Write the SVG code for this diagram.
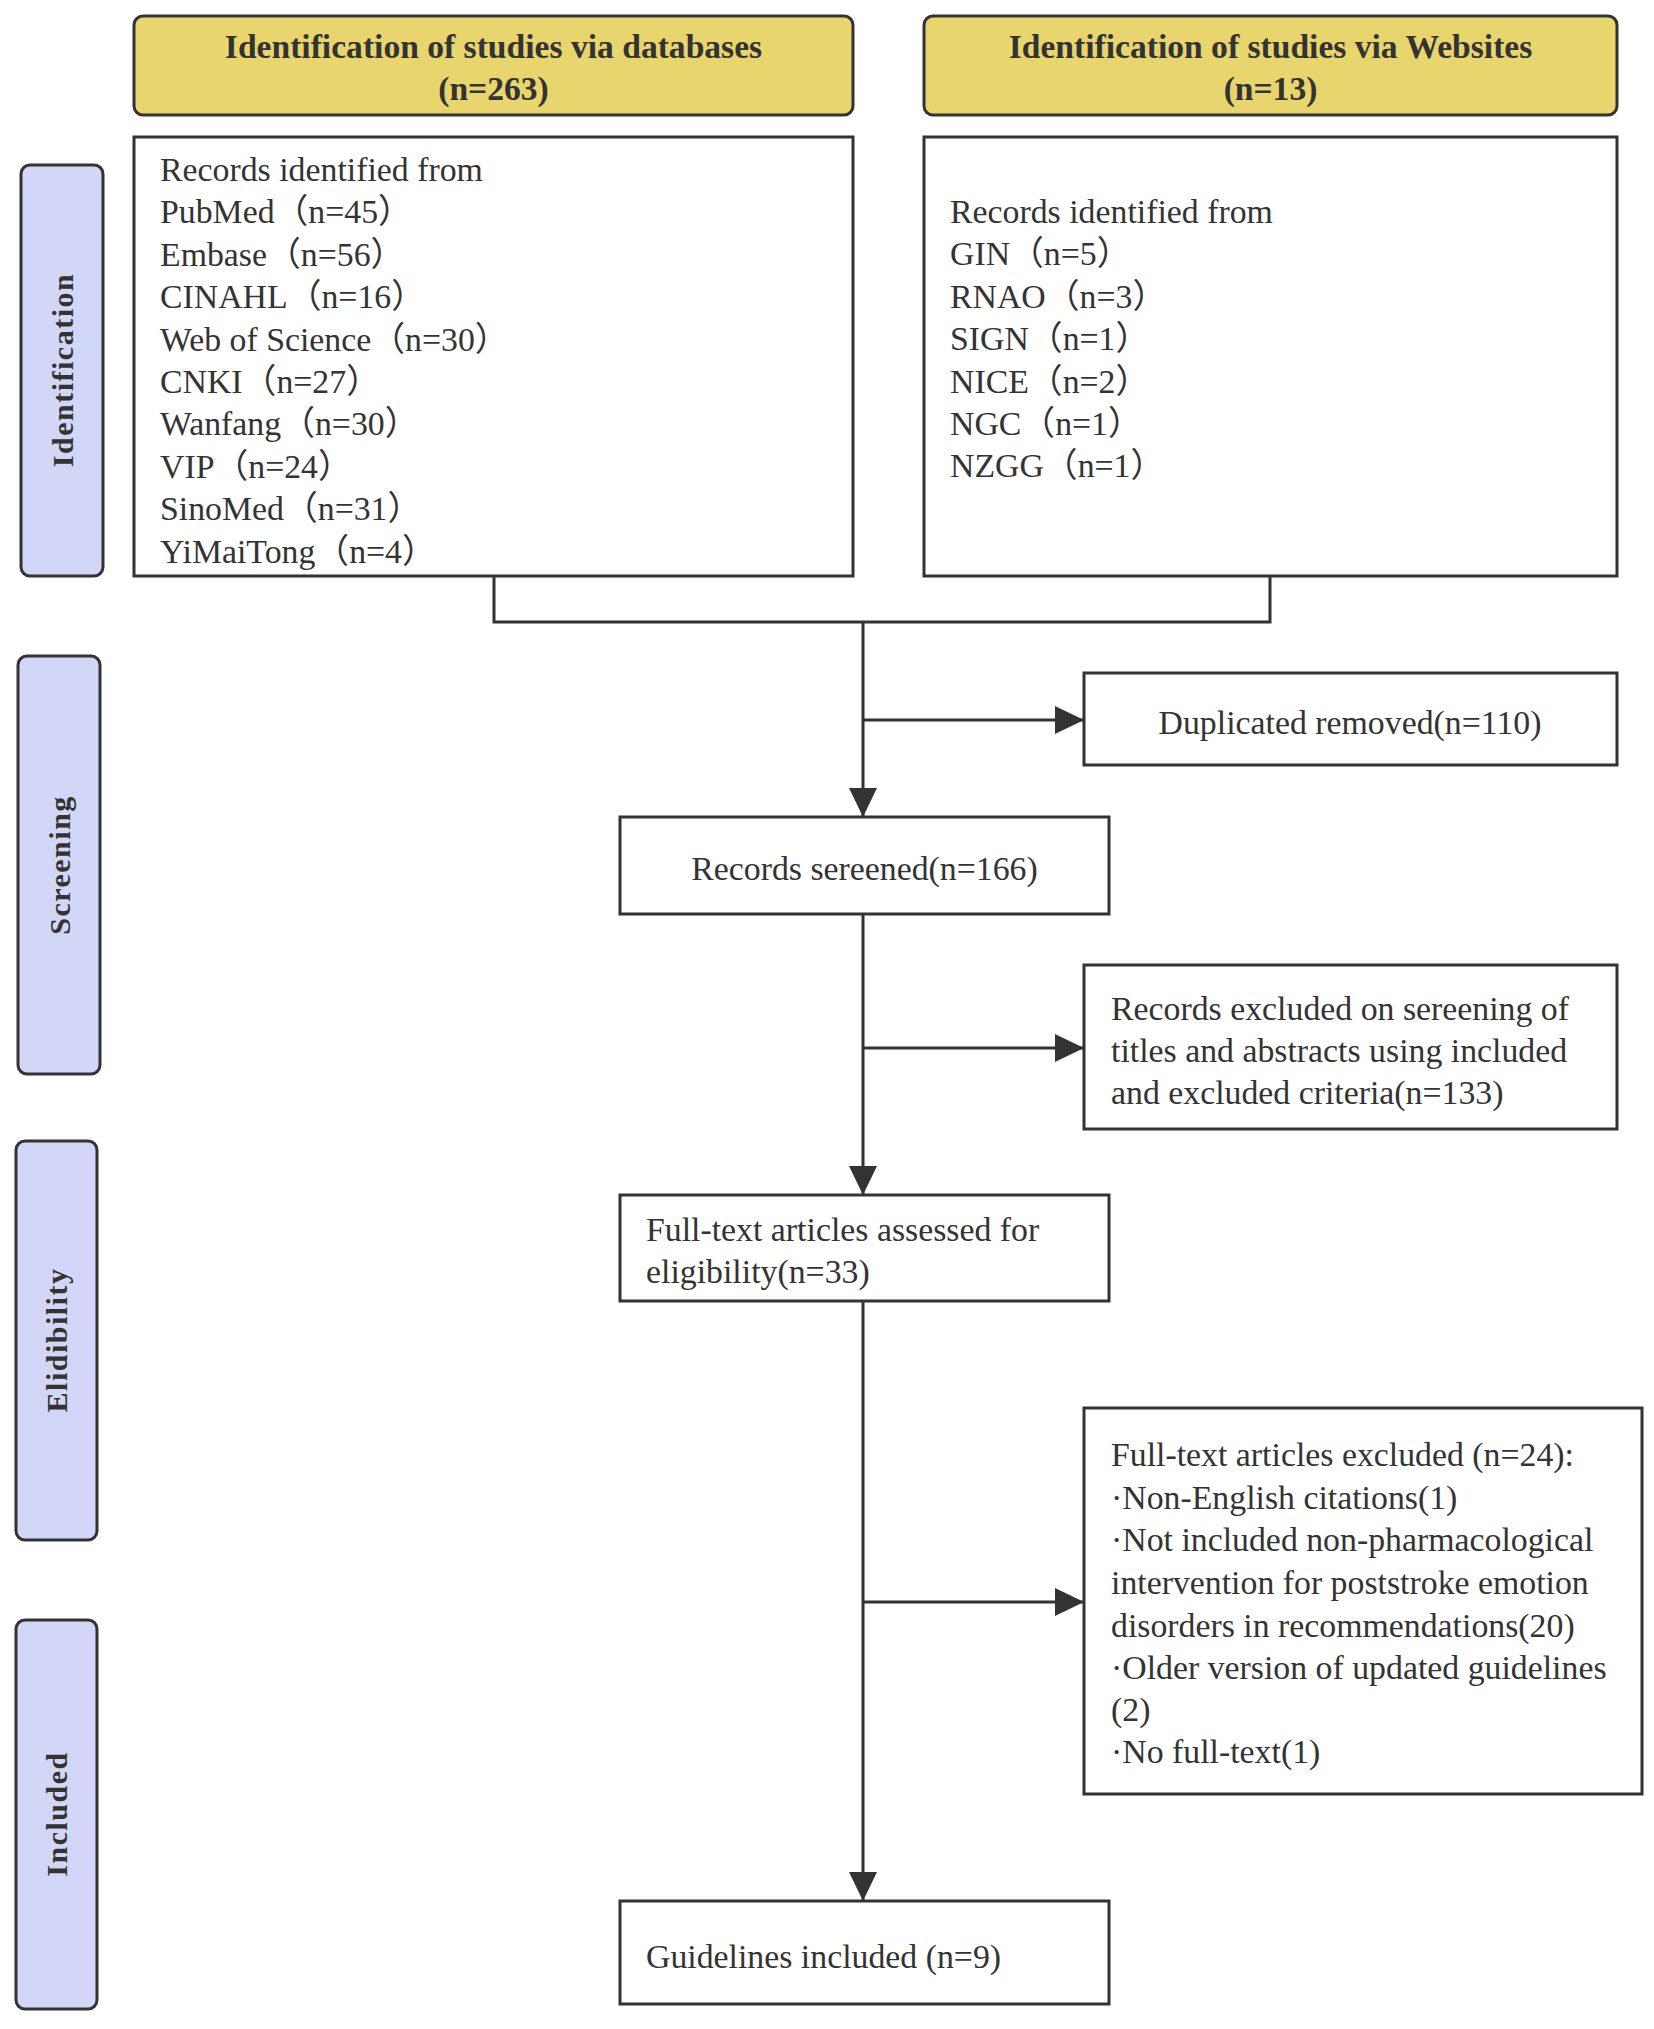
<svg xmlns="http://www.w3.org/2000/svg" width="1654" height="2029" viewBox="0 0 1654 2029">
<style>
.hdr{fill:#E8D56E;stroke:#333;stroke-width:3}
.side{fill:#D3D7F7;stroke:#333;stroke-width:3}
.box{fill:#fff;stroke:#333;stroke-width:3}
.t{font-family:"Liberation Serif","Times New Roman","Noto Sans CJK SC",serif;font-size:33.8px;fill:#333}
.b{font-family:"Liberation Serif","Times New Roman",serif;font-size:33.6px;font-weight:bold;fill:#333;text-anchor:middle}
.s{font-family:"Liberation Serif","Times New Roman",serif;font-size:30px;font-weight:bold;fill:#333;text-anchor:middle;letter-spacing:1.5px}
.c{text-anchor:middle}
.ln{fill:none;stroke:#333;stroke-width:3}
</style>
<defs>
<marker id="ah" markerUnits="userSpaceOnUse" markerWidth="30" markerHeight="28" refX="29" refY="14" orient="auto">
<path d="M0,0 L29,14 L0,28 Z" fill="#333"/>
</marker>
</defs>
<rect width="1654" height="2029" fill="#fff"/>

<g id="side-identification"><rect class="side" x="21" y="165" width="82" height="411" rx="9"/><text class="s" transform="translate(62,370) rotate(-90)" dominant-baseline="central">Identification</text></g>
<g id="side-screening"><rect class="side" x="18" y="656" width="82" height="418" rx="9"/><text class="s" transform="translate(59,865) rotate(-90)" dominant-baseline="central">Screening</text></g>
<g id="side-eligibility"><rect class="side" x="16" y="1141" width="81" height="399" rx="9"/><text class="s" transform="translate(56.5,1340) rotate(-90)" dominant-baseline="central">Elidibility</text></g>
<g id="side-included"><rect class="side" x="16" y="1620" width="81" height="389" rx="9"/><text class="s" transform="translate(56.5,1814) rotate(-90)" dominant-baseline="central">Included</text></g>

<g id="hdr-databases"><rect class="hdr" x="134" y="16" width="719" height="99" rx="9"/><text class="b" x="493.5" y="58">Identification of studies via databases</text><text class="b" x="493.5" y="100">(n=263)</text></g>
<g id="hdr-websites"><rect class="hdr" x="924" y="16" width="693" height="99" rx="9"/><text class="b" x="1270.5" y="58">Identification of studies via Websites</text><text class="b" x="1270.5" y="100">(n=13)</text></g>

<g id="records-databases"><rect class="box" x="134" y="137" width="719" height="439"/>
<text class="t" x="160" y="181">Records identified from</text>
<text class="t" x="160" y="223.4">PubMed（n=45）</text>
<text class="t" x="160" y="265.8">Embase（n=56）</text>
<text class="t" x="160" y="308.2">CINAHL（n=16）</text>
<text class="t" x="160" y="350.6">Web of Science（n=30）</text>
<text class="t" x="160" y="393">CNKI（n=27）</text>
<text class="t" x="160" y="435.4">Wanfang（n=30）</text>
<text class="t" x="160" y="477.8">VIP（n=24）</text>
<text class="t" x="160" y="520.2">SinoMed（n=31）</text>
<text class="t" x="160" y="562.6">YiMaiTong（n=4）</text>
</g>
<g id="records-websites"><rect class="box" x="924" y="137" width="693" height="439"/>
<text class="t" x="950" y="223">Records identified from</text>
<text class="t" x="950" y="265.4">GIN（n=5）</text>
<text class="t" x="950" y="307.8">RNAO（n=3）</text>
<text class="t" x="950" y="350.2">SIGN（n=1）</text>
<text class="t" x="950" y="392.6">NICE（n=2）</text>
<text class="t" x="950" y="435">NGC（n=1）</text>
<text class="t" x="950" y="477.4">NZGG（n=1）</text>
</g>

<g id="duplicates"><rect class="box" x="1084" y="673" width="533" height="92"/><text class="t c" x="1350" y="734">Duplicated removed(n=110)</text></g>
<g id="screened"><rect class="box" x="620" y="817" width="489" height="97"/><text class="t c" x="864.5" y="880">Records sereened(n=166)</text></g>
<g id="excluded-screening"><rect class="box" x="1084" y="965" width="533" height="164"/>
<text class="t" x="1111" y="1020">Records excluded on sereening of</text>
<text class="t" x="1111" y="1062">titles and abstracts using included</text>
<text class="t" x="1111" y="1104">and excluded criteria(n=133)</text></g>
<g id="assessed"><rect class="box" x="620" y="1195" width="489" height="106"/>
<text class="t" x="646" y="1241">Full-text articles assessed for</text>
<text class="t" x="646" y="1283">eligibility(n=33)</text></g>
<g id="excluded-fulltext"><rect class="box" x="1084" y="1408" width="558" height="386"/>
<text class="t" x="1111" y="1466">Full-text articles excluded (n=24):</text>
<text class="t" x="1111" y="1509">·Non-English citations(1)</text>
<text class="t" x="1111" y="1551">·Not included non-pharmacological</text>
<text class="t" x="1111" y="1594">intervention for poststroke emotion</text>
<text class="t" x="1111" y="1637">disorders in recommendations(20)</text>
<text class="t" x="1111" y="1679">·Older version of updated guidelines</text>
<text class="t" x="1111" y="1721">(2)</text>
<text class="t" x="1111" y="1763">·No full-text(1)</text></g>
<g id="included"><rect class="box" x="620" y="1901" width="489" height="103"/><text class="t" x="646" y="1968">Guidelines included (n=9)</text></g>

<g id="connectors">
<path class="ln" d="M494,576 V622 H1270 V576"/>
<path class="ln" d="M863,622 V817" marker-end="url(#ah)"/>
<path class="ln" d="M863,720 H1084" marker-end="url(#ah)"/>
<path class="ln" d="M863,914 V1195" marker-end="url(#ah)"/>
<path class="ln" d="M863,1048 H1084" marker-end="url(#ah)"/>
<path class="ln" d="M863,1301 V1901" marker-end="url(#ah)"/>
<path class="ln" d="M863,1602 H1084" marker-end="url(#ah)"/>
</g>
</svg>
